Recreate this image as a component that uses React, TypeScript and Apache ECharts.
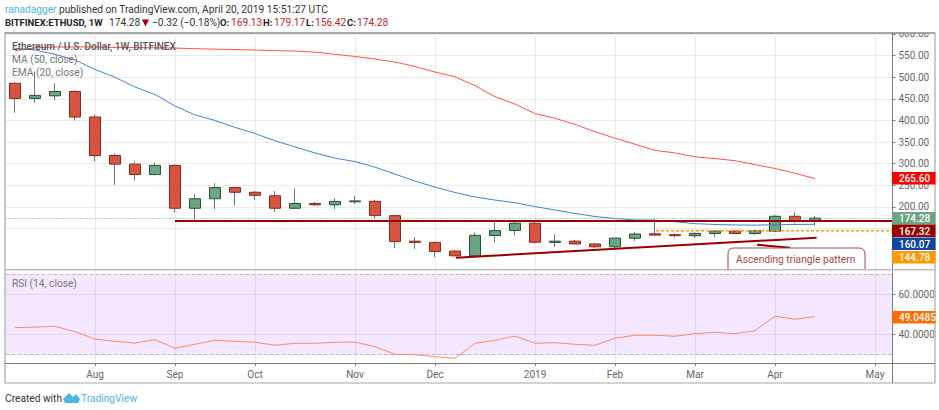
import React, { useEffect, useRef } from 'react';
import * as echarts from 'echarts';

// weekly bars, Jul 2018 - Apr 2019, x is the bar index
const opens = [486, 451, 457, 467, 408, 319, 299, 275, 296, 197, 219, 245, 234, 226, 197, 208, 205, 212, 213, 180, 121, 118, 98, 87, 134, 145.5, 162.5, 118, 121, 114.5, 108, 127.6, 138, 136, 133.6, 138.7, 144, 138.7, 144, 178.5, 169.13];
const closes = [451, 458, 467, 408, 319, 299, 275, 296, 197, 219, 245, 234, 227, 197, 208, 205, 213, 214, 180, 120, 118, 97, 87, 134.5, 145.5, 162.5, 118.5, 121, 114.5, 108, 128, 137.6, 135, 133.6, 139, 144, 138.7, 145, 178.5, 168, 174.28];
const lows = [418, 441, 447, 400, 305, 251, 261, 273, 187, 168, 195, 203, 216, 189, 195, 203, 195, 207, 174, 104.5, 103, 84, 86, 86, 117.5, 134, 116, 108, 113, 105, 102, 121, 133.6, 129, 128, 131, 137, 135, 142, 162, 156.42];
const highs = [488, 513, 486, 470, 414, 324, 305, 302, 299, 230, 255, 247, 237, 237, 243, 212, 220, 225, 216, 181, 130, 120, 100.6, 140.6, 166, 166, 166, 137, 124, 116, 129, 142, 171.5, 138, 141, 147, 146, 148, 182, 188.5, 179.17];

const ma50 = [561, 568, 570, 570, 570, 569, 568.5, 568, 567.5, 566, 565, 564, 563, 561.5, 560.5, 558, 553, 548, 542, 535, 525, 512, 501, 480.5, 455, 438, 416, 405, 391, 374, 359, 345, 331, 325, 316, 312, 307, 298, 289, 278, 265.6];
const ema20 = [567, 563, 553, 540, 518, 500, 477.5, 460, 433.5, 413, 400, 384, 370, 353, 339, 325, 313, 305, 292, 276, 260, 246, 233.5, 223, 216, 210, 201, 193, 185, 178, 173.5, 170, 169.5, 166, 161.5, 159.5, 158.5, 158, 159, 159.5, 160.07];
const rsi14 = [43.5, 43.8, 44.2, 41.5, 37.8, 36.7, 35.8, 37.5, 33.2, 35.2, 37.2, 36.7, 36.2, 34.7, 35.7, 35.7, 36.2, 36.3, 34, 30.2, 30, 29, 28.2, 35.7, 37.2, 39.3, 35.7, 36, 35.2, 34.7, 38.2, 39.7, 39.7, 39.2, 40.5, 41.2, 40.5, 42, 49.2, 47.7, 49.0485];

const monthTicks = [4, 8, 12, 17, 21, 26, 30, 34, 38, 43];
const monthLabels = ['Aug', 'Sep', 'Oct', 'Nov', 'Dec', '2019', 'Feb', 'Mar', 'Apr', 'May'];
const priceTicks = [150, 200, 250, 300, 350, 400, 450, 500, 550, 600];
const priceLabels = [200, 250, 300, 350, 400, 450, 500, 550, 600];
const rsiTicks = [40, 60];

// drawn trend lines, [bar index, price]
const resistance = [[8, 167.32], [43.875, 167.32]];
const support = [[22.05, 82.8], [40.08, 129]];
const breakout = [[32.05, 144.78], [43.875, 144.78]];
const pointer = [[37.1, 112.8], [38.75, 105.9]];

const lastPrice = 174.28;

const priceTags = [
  { text: '265.60', y: 172, color: '#ff0000' },
  { text: '174.28', y: 212, color: '#6ba583' },
  { text: '167.32', y: 224.5, color: '#990000' },
  { text: '160.07', y: 237.5, color: '#0d47a1' },
  { text: '144.78', y: 251, color: '#ff9800' },
  { text: '49.0485', y: 311, color: '#ff6d00' },
];

const FONT = 'Roboto';
const UP = '#6ba583';
const DOWN = '#d75442';
const GRID = '#ebebeb';
const BOLD = `bold 9.5px ${FONT}`;

const label = (x: number, y: number, text: string, fill = '#555', extra: any = {}) => ({
  type: 'text',
  x,
  y,
  z: 20,
  style: { text, fill, font: `10.2px ${FONT}`, textVerticalAlign: 'middle', ...extra },
});

const wickRows = opens.map((o, i) => [i, o, closes[i], lows[i], highs[i]]);
const bodyRows = opens.map((o, i) => [i, o, closes[i], Math.min(o, closes[i]), Math.max(o, closes[i])]);

const trendLine = (data: number[][], color: string, width: number, type: any = 'solid') => ({
  type: 'line',
  data,
  xAxisIndex: 0,
  yAxisIndex: 0,
  symbol: 'none',
  silent: true,
  z: 5,
  lineStyle: { color, width, type },
});

const App: React.FC = () => {
  const chartRef = useRef<HTMLDivElement>(null);

  useEffect(() => {
    if (!chartRef.current) return;
    echarts.graphic.registerShape(
      'callout',
      echarts.graphic.extendPath('M728 269L728 254Q728 248 734 248L859 248Q865 248 865 254L865 269', {})
    );
    echarts.graphic.registerShape(
      'tvlogo',
      echarts.graphic.extendPath('M63 399L69 393L73 397L76 394L80 399L78 403L65 403Z', {})
    );
    const chart = echarts.init(chartRef.current, undefined, { renderer: 'svg' });

    const indexAxis = {
      type: 'value',
      min: -0.475,
      max: 43.875,
      axisLine: { show: false, onZero: false },
      splitLine: { show: true, lineStyle: { color: GRID, width: 1.2 } },
    };

    const option: any = {
      animation: false,
      backgroundColor: '#fff',
      textStyle: { fontFamily: FONT },
      grid: [
        { left: 5.5, width: 887, top: 33, height: 236 },
        { left: 5.5, width: 887, top: 271, height: 92 },
      ],
      xAxis: [
        {
          ...indexAxis,
          gridIndex: 0,
          axisTick: { show: false, customValues: monthTicks },
          axisLabel: { show: false, customValues: monthTicks },
        },
        {
          ...indexAxis,
          gridIndex: 1,
          axisTick: { show: true, length: 3, lineStyle: { color: '#777' }, customValues: monthTicks },
          axisLabel: {
            show: true,
            customValues: monthTicks,
            color: '#666',
            fontSize: 10,
            margin: 6,
            formatter: (v: number) => monthLabels[monthTicks.indexOf(v)] ?? '',
          },
        },
      ],
      yAxis: [
        {
          type: 'value',
          gridIndex: 0,
          position: 'right',
          min: 56.6,
          max: 602.3,
          axisLine: { show: false, onZero: false },
          axisTick: { show: true, length: 3, lineStyle: { color: '#777' }, customValues: priceTicks },
          axisLabel: {
            customValues: priceLabels,
            color: '#666',
            fontSize: 10,
            margin: 6,
            formatter: (v: number) => v.toFixed(2),
          },
          splitLine: { show: true, lineStyle: { color: GRID, width: 1.2 } },
        },
        {
          type: 'value',
          gridIndex: 1,
          position: 'right',
          min: 25.85,
          max: 71.8,
          axisLine: { show: false, onZero: false },
          axisTick: { show: true, length: 3, lineStyle: { color: '#777' }, customValues: rsiTicks },
          axisLabel: {
            customValues: rsiTicks,
            color: '#666',
            fontSize: 10,
            margin: 6,
            formatter: (v: number) => v.toFixed(4),
          },
          splitLine: { show: true, lineStyle: { color: GRID, width: 1.2 } },
        },
      ],
      series: [
        {
          type: 'candlestick',
          data: wickRows,
          encode: { x: 0, y: [1, 2, 3, 4] },
          barWidth: 1,
          silent: true,
          itemStyle: { color: '#737375', color0: '#737375', borderColor: '#737375', borderColor0: '#737375', borderColorDoji: '#737375', borderWidth: 1 },
          markLine: {
            silent: true,
            symbol: 'none',
            label: { show: false },
            lineStyle: { color: UP, type: [1, 2], width: 1 },
            data: [{ yAxis: lastPrice }],
          },
        },
        {
          type: 'candlestick',
          data: bodyRows,
          encode: { x: 0, y: [1, 2, 3, 4] },
          barWidth: 12,
          silent: true,
          itemStyle: { color: UP, color0: DOWN, borderColor: '#225437', borderColor0: '#8b2a1f', borderColorDoji: '#225437', borderWidth: 1 },
        },
        { ...trendLine(opens.map((_, i) => [i, ma50[i]]), '#ff5050', 1), z: 4 },
        { ...trendLine(opens.map((_, i) => [i, ema20[i]]), '#4a7fd0', 1), z: 4 },
        trendLine(resistance, '#990000', 2),
        trendLine(support, '#990000', 2),
        trendLine(pointer, '#990000', 2),
        trendLine(breakout, '#ff9800', 1.5, [3, 2]),
        {
          type: 'line',
          xAxisIndex: 1,
          yAxisIndex: 1,
          data: rsi14.map((v, i) => [i, v]),
          symbol: 'none',
          silent: true,
          z: 5,
          lineStyle: { color: '#ff8a5c', width: 1 },
          markArea: {
            silent: true,
            itemStyle: { color: 'rgba(153, 21, 255, 0.1)' },
            data: [[{ yAxis: 70 }, { yAxis: 30 }]],
          },
          markLine: {
            silent: true,
            symbol: 'none',
            label: { show: false },
            lineStyle: { color: '#c4b8c8', type: 'dashed', width: 1 },
            data: [{ yAxis: 70 }, { yAxis: 30 }],
          },
        },
      ],
      graphic: [
        // mask for the clipped 600.00 label, then frame and pane rules
        { type: 'rect', z: 10, shape: { x: 893, y: 27, width: 46, height: 6 }, style: { fill: '#fff' } },
        { type: 'rect', z: 11, shape: { x: 5, y: 33, width: 930, height: 350 }, style: { fill: 'none', stroke: '#a8a8a8', lineWidth: 1.2 } },
        { type: 'line', z: 11, shape: { x1: 5, y1: 33, x2: 935, y2: 33 }, style: { stroke: '#7c7c7c', lineWidth: 1 } },
        { type: 'line', z: 11, shape: { x1: 892.5, y1: 33, x2: 892.5, y2: 383 }, style: { stroke: '#7c7c7c', lineWidth: 1 } },
        { type: 'line', z: 11, shape: { x1: 5, y1: 269.8, x2: 935, y2: 269.8 }, style: { stroke: '#bdbdbd', lineWidth: 1.5 } },
        { type: 'line', z: 11, shape: { x1: 5, y1: 363.5, x2: 935, y2: 363.5 }, style: { stroke: '#7c7c7c', lineWidth: 1 } },

        // header
        label(5, 9.5, 'ranadagger', '#4ab5e6'),
        label(59, 9.5, 'published on TradingView.com, April 20, 2019 15:51:27 UTC', '#333'),
        label(5, 22.5, 'BITFINEX:ETHUSD, 1W', '#222', { font: BOLD }),
        label(109, 22.5, '174.28', '#333'),
        { type: 'polygon', z: 20, shape: { points: [[142, 19.5], [149, 19.5], [145.5, 26.5]] }, style: { fill: '#990000' } },
        label(152, 22.5, '\u22120.32 (\u22120.18%)', '#333'),
        label(220, 22.5, 'O:', '#222', { font: BOLD }),
        label(231, 22.5, '169.13', '#b22a2a'),
        label(263, 22.5, 'H:', '#222', { font: BOLD }),
        label(274, 22.5, '179.17', '#b22a2a'),
        label(306, 22.5, 'L:', '#222', { font: BOLD }),
        label(315, 22.5, '156.42', '#b22a2a'),
        label(347, 22.5, 'C:', '#222', { font: BOLD }),
        label(357, 22.5, '174.28', '#b22a2a'),

        // pane legends
        label(12, 46, 'Ethereum / U.S. Dollar, 1W, BITFINEX', '#555', { font: `500 10px ${FONT}` }),
        label(12, 59, 'MA (50, close)', '#777'),
        label(12, 72, 'EMA (20, close)', '#777'),
        label(12, 283, 'RSI (14, close)', '#777'),

        // callout
        { type: 'callout', z: 12, x: 0, y: 0, style: { fill: '#fff', stroke: '#a94442', lineWidth: 1 } },
        label(736, 259.5, 'Ascending triangle pattern', '#a94442'),

        // value tags on the price scale
        ...priceTags.flatMap((tag) => [
          { type: 'rect', z: 15, shape: { x: 892, y: tag.y, width: 43.5, height: 12.6 }, style: { fill: tag.color } },
          label(899, tag.y + 6.5, tag.text, '#fff', { font: `500 10px ${FONT}` }),
        ]),

        // footer
        label(5, 398, 'Created with', '#333'),
        { type: 'tvlogo', z: 20, x: 0, y: 0, style: { fill: '#4ab5e6' } },
        label(81, 398, 'TradingView', '#4ab5e6'),
      ],
    };

    chart.setOption(option);
    return () => chart.dispose();
  }, []);

  return <div ref={chartRef} style={{ position: 'absolute', left: 0, top: 0, width: 939, height: 410 }} />;
};

export default App;
